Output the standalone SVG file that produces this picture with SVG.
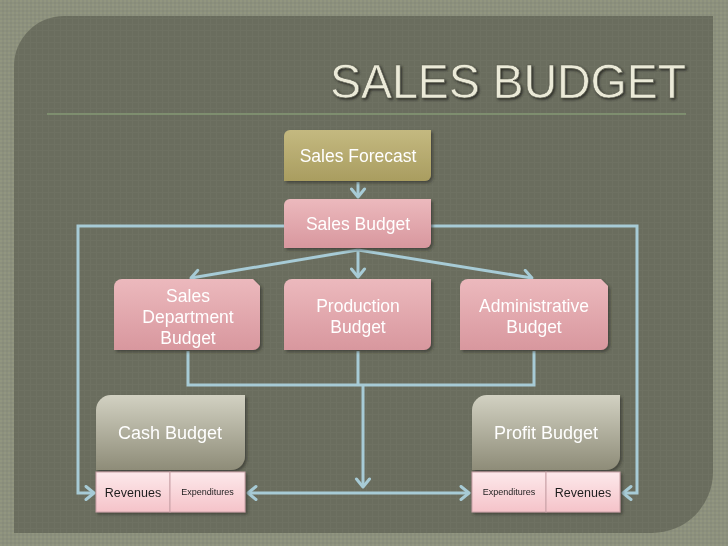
<svg xmlns="http://www.w3.org/2000/svg" width="728" height="546" viewBox="0 0 728 546">
<defs>
<pattern id="texOuter" width="4" height="4" patternUnits="userSpaceOnUse">
<rect width="4" height="4" fill="#8c907e"/>
<rect width="2" height="2" fill="#92967f"/>
<rect x="2" y="2" width="2" height="2" fill="#888c79"/>
</pattern>
<pattern id="texInner" width="6" height="6" patternUnits="userSpaceOnUse">
<rect width="6" height="6" fill="#6a6d5e"/>
<path d="M0,0.5H6M0.5,0V6" stroke="#6e7162" stroke-width="1"/>
</pattern>
<linearGradient id="gOlive" x1="0" y1="0" x2="0" y2="1">
<stop offset="0" stop-color="#c4b980"/>
<stop offset="1" stop-color="#a99d60"/>
</linearGradient>
<linearGradient id="gPink" x1="0" y1="0" x2="0" y2="1">
<stop offset="0" stop-color="#ecb9bd"/>
<stop offset="1" stop-color="#d8979e"/>
</linearGradient>
<linearGradient id="gGray" x1="0" y1="0" x2="0" y2="1">
<stop offset="0" stop-color="#d2d1c2"/>
<stop offset="1" stop-color="#8e8c78"/>
</linearGradient>
<linearGradient id="gCell" x1="0" y1="0" x2="0" y2="1">
<stop offset="0" stop-color="#fde9eb"/>
<stop offset="1" stop-color="#f5c3c9"/>
</linearGradient>
<filter id="sh" x="-10%" y="-10%" width="130%" height="140%">
<feDropShadow dx="2" dy="2" stdDeviation="1.5" flood-color="#2e2f27" flood-opacity="0.6"/>
</filter>
<filter id="tsh" x="-5%" y="-20%" width="110%" height="150%">
<feDropShadow dx="1.5" dy="1.5" stdDeviation="1" flood-color="#2a2b22" flood-opacity="0.9"/>
</filter>
<marker id="arr" markerUnits="userSpaceOnUse" markerWidth="16" markerHeight="18" refX="11" refY="8" orient="auto-start-reverse" viewBox="0 0 16 18">
<path d="M3,1.5 L11,8 L3,14.5" fill="none" stroke="#a7cbd6" stroke-width="3" stroke-linecap="round" stroke-linejoin="round"/>
</marker>
<style>
.lbl{font-family:"Liberation Sans",Arial,sans-serif;fill:#ffffff;text-anchor:middle;}
.big{font-size:17.5px;}
.cell{font-family:"Liberation Sans",Arial,sans-serif;fill:#1e1e1e;text-anchor:middle;}
.con{fill:none;stroke:#a7cbd6;stroke-width:3;}
.cellbox{fill:url(#gCell);stroke:#c9a2a7;stroke-width:1;}
</style>
</defs>

<rect width="728" height="546" fill="url(#texOuter)"/>
<path d="M64,16 H713 V472 A61,61 0 0 1 652,533 H14 V66 A50,50 0 0 1 64,16 Z" fill="url(#texInner)"/>

<g id="title">
<text x="330" y="98" textLength="356" lengthAdjust="spacingAndGlyphs" font-family="'Liberation Sans',Arial,sans-serif" font-size="48" fill="#ebead8" stroke="#56584b" stroke-width="0.6" filter="url(#tsh)">SALES BUDGET</text>
<line x1="47" y1="114" x2="686" y2="114" stroke="#7e8e6f" stroke-width="2"/>
</g>

<g id="connectors">
<path class="con" d="M358,182 V197" marker-end="url(#arr)"/>
<path class="con" d="M358,250 L191,278" marker-end="url(#arr)"/>
<path class="con" d="M358,250 V277" marker-end="url(#arr)"/>
<path class="con" d="M358,250 L532,278" marker-end="url(#arr)"/>
<path class="con" d="M284,226 H78 V493 H94" marker-end="url(#arr)"/>
<path class="con" d="M431,226 H637 V493 H623" marker-end="url(#arr)"/>
<path class="con" d="M188,351 V385 H534 V351 M358,351 V385"/>
<path class="con" d="M363,385 V487" marker-end="url(#arr)"/>
<path class="con" d="M248,493 H469" marker-start="url(#arr)" marker-end="url(#arr)"/>
</g>

<g id="sales-forecast" filter="url(#sh)">
<path d="M290,130 H431 V175 A6,6 0 0 1 425,181 H284 V136 A6,6 0 0 1 290,130 Z" fill="url(#gOlive)"/>
<text class="lbl big" x="358" y="162">Sales Forecast</text>
</g>

<g id="sales-budget" filter="url(#sh)">
<path d="M290,199 H431 V242 A6,6 0 0 1 425,248 H284 V205 A6,6 0 0 1 290,199 Z" fill="url(#gPink)"/>
<text class="lbl big" x="358" y="230">Sales Budget</text>
</g>

<g id="sales-department-budget" filter="url(#sh)">
<path d="M122,279 H253 L260,286 V343 A7,7 0 0 1 253,350 H114 V287 A8,8 0 0 1 122,279 Z" fill="url(#gPink)"/>
<text class="lbl big" x="188" y="302">Sales</text>
<text class="lbl big" x="188" y="323">Department</text>
<text class="lbl big" x="188" y="344">Budget</text>
</g>

<g id="production-budget" filter="url(#sh)">
<path d="M292,279 H431 V343 A7,7 0 0 1 424,350 H284 V287 A8,8 0 0 1 292,279 Z" fill="url(#gPink)"/>
<text class="lbl big" x="358" y="312">Production</text>
<text class="lbl big" x="358" y="333">Budget</text>
</g>

<g id="administrative-budget" filter="url(#sh)">
<path d="M468,279 H601 L608,286 V343 A7,7 0 0 1 601,350 H460 V287 A8,8 0 0 1 468,279 Z" fill="url(#gPink)"/>
<text class="lbl big" x="534" y="312">Administrative</text>
<text class="lbl big" x="534" y="333">Budget</text>
</g>

<g id="cash-budget" filter="url(#sh)">
<path d="M111,395 H245 V456 A14,14 0 0 1 231,470 H96 V410 A15,15 0 0 1 111,395 Z" fill="url(#gGray)"/>
<text class="lbl" font-size="18" x="170" y="439">Cash Budget</text>
<rect class="cellbox" x="96" y="472" width="74" height="40"/>
<rect class="cellbox" x="170" y="472" width="75" height="40"/>
<text class="cell" font-size="12.5" x="133" y="497">Revenues</text>
<text class="cell" font-size="9" x="207.5" y="495">Expenditures</text>
</g>

<g id="profit-budget" filter="url(#sh)">
<path d="M487,395 H620 V456 A14,14 0 0 1 606,470 H472 V410 A15,15 0 0 1 487,395 Z" fill="url(#gGray)"/>
<text class="lbl" font-size="18" x="546" y="439">Profit Budget</text>
<rect class="cellbox" x="472" y="472" width="74" height="40"/>
<rect class="cellbox" x="546" y="472" width="74" height="40"/>
<text class="cell" font-size="9" x="509" y="495">Expenditures</text>
<text class="cell" font-size="12.5" x="583" y="497">Revenues</text>
</g>
</svg>
